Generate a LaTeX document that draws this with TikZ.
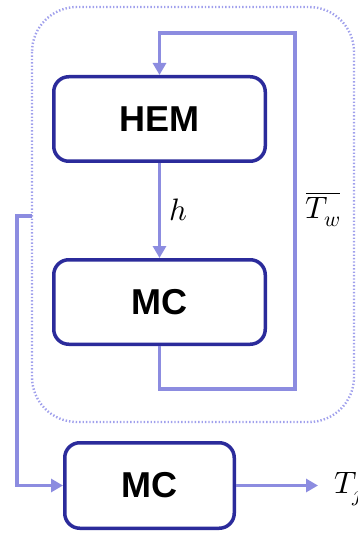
\documentclass[tikz,border=0pt]{standalone}
\usepackage{fontspec}
\usepackage{unicode-math}
\setmainfont{Liberation Sans}
\setmathfont{Latin Modern Math}
\usetikzlibrary{arrows.meta}
\definecolor{boxblue}{HTML}{2B2B9B}
\definecolor{linepurple}{HTML}{8C8CE0}
\definecolor{dotpurple}{HTML}{A0A0EC}
\tikzset{
  blk/.style={draw=boxblue, line width=3.5pt, rounded corners=15pt, fill=white,
    font=\fontsize{36}{40}\selectfont\bfseries, inner sep=0pt},
  conn/.style={draw=linepurple, line width=3.5pt},
  arr/.style={conn, -{Triangle[length=12pt,width=13pt]}},
  lbl/.style={font=\fontsize{31}{34}\selectfont, inner sep=0pt}
}
\begin{document}
\begin{tikzpicture}[x=1pt,y=-1pt]
\useasboundingbox (0,0) rectangle (357,534);
\draw[dotpurple, line width=2.4pt, dash pattern=on 1.4pt off 2pt, rounded corners=45pt]
  (32,7) rectangle (354,422);
\node[blk, minimum width=211.5pt, minimum height=84.5pt] (hem) at (159.5,119) {HEM};
\node[blk, minimum width=211.5pt, minimum height=84.5pt] (mc1) at (159.5,302) {MC};
\node[blk, minimum width=169.5pt, minimum height=85.5pt] (mc2) at (149.5,485.5) {MC};
\draw[arr] (hem.south) -- (mc1.north);
\node[lbl] (h) at (178,210) {$h$};
\coordinate (lb) at (295,389);
\coordinate (lt) at (295,33);
\draw[arr, line join=miter] (mc1.south) |- (lb) -- (lt) -| (hem.north);
\node[lbl] (tw) at (323,209) {$\overline{T_w}$};
\coordinate (cin) at (32,216);
\coordinate (cl) at (17,216);
\draw[arr] (cin) -- (cl) |- (mc2.west);
\coordinate (cout) at (318,485.5);
\draw[arr] (mc2.east) -- (cout);
\node[lbl, anchor=west] (tj) at (334,489) {$T_j$};
\end{tikzpicture}
\end{document}
